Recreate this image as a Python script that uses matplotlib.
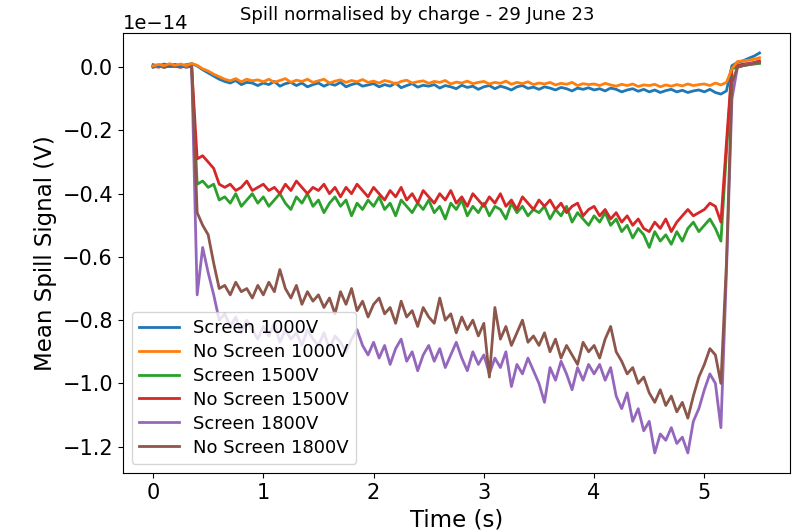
import numpy as np
import matplotlib
matplotlib.use("Agg")
import matplotlib.pyplot as plt

# time samples (s), 0.05 s spacing
t = np.arange(0, 5.51, 0.05)

# mean spill signal, in units of 1e-14 V
screen_1000 = [
    0.008, 0.004, 0.01, 0.006, 0.009, 0.004, 0.008, 0.011, 0.004, -0.008,
    -0.018, -0.028, -0.038, -0.045, -0.05, -0.042, -0.055, -0.048, -0.05, -0.058,
    -0.05, -0.055, -0.045, -0.06, -0.052, -0.048, -0.058, -0.05, -0.062, -0.055,
    -0.05, -0.06, -0.052, -0.057, -0.048, -0.062, -0.055, -0.05, -0.06, -0.056,
    -0.052, -0.062, -0.055, -0.06, -0.05, -0.065, -0.058, -0.052, -0.063, -0.057,
    -0.06, -0.055, -0.066, -0.058, -0.062, -0.068, -0.057, -0.064, -0.06, -0.07,
    -0.062, -0.058, -0.068, -0.06, -0.065, -0.072, -0.062, -0.058, -0.067, -0.063,
    -0.07, -0.062, -0.066, -0.072, -0.064, -0.068, -0.075, -0.066, -0.07, -0.065,
    -0.072, -0.068, -0.075, -0.066, -0.07, -0.078, -0.072, -0.068, -0.076, -0.07,
    -0.078, -0.072, -0.08, -0.074, -0.07, -0.078, -0.073, -0.08, -0.075, -0.072,
    -0.078, -0.07, -0.08, -0.085, -0.075, 0.005, 0.015, 0.02, 0.028, 0.035,
    0.045,
]
no_screen_1000 = [
    0.004, 0.009, 0.005, 0.011, 0.006, 0.01, 0.005, 0.012, 0.006, -0.005,
    -0.012, -0.022, -0.03, -0.038, -0.043, -0.036, -0.046, -0.038, -0.043, -0.04,
    -0.046, -0.038, -0.048, -0.042, -0.036, -0.048, -0.041, -0.045, -0.038, -0.048,
    -0.043, -0.038, -0.05, -0.044, -0.04, -0.048, -0.042, -0.046, -0.039, -0.048,
    -0.044, -0.05, -0.042, -0.046, -0.053, -0.045, -0.041, -0.05, -0.046, -0.043,
    -0.051, -0.045, -0.048, -0.042, -0.053, -0.047, -0.05, -0.044, -0.052, -0.048,
    -0.045, -0.053, -0.048, -0.051, -0.044, -0.054, -0.048, -0.052, -0.046, -0.055,
    -0.05, -0.053, -0.048, -0.056, -0.051, -0.054, -0.048, -0.058, -0.052, -0.055,
    -0.053, -0.058, -0.051, -0.056, -0.06, -0.054, -0.058, -0.053, -0.061, -0.056,
    -0.058, -0.054, -0.062, -0.056, -0.06, -0.055, -0.059, -0.053, -0.058, -0.055,
    -0.053, -0.058, -0.05, -0.056, -0.048, -0.005, 0.018, 0.02, 0.022, 0.025,
    0.03,
]
screen_1500 = [
    0.0, 0.005, 0.0, 0.004, 0.002, 0.006, 0.0, 0.004, -0.37, -0.36,
    -0.38, -0.37, -0.42, -0.41, -0.43, -0.40, -0.44, -0.42, -0.40, -0.43,
    -0.41, -0.44, -0.42, -0.40, -0.43, -0.45, -0.41, -0.43, -0.40, -0.44,
    -0.42, -0.46, -0.43, -0.41, -0.44, -0.42, -0.47, -0.43, -0.45, -0.42,
    -0.44, -0.41, -0.45, -0.43, -0.47, -0.42, -0.44, -0.46, -0.43, -0.45,
    -0.42, -0.46, -0.44, -0.48, -0.43, -0.45, -0.42, -0.47, -0.44, -0.46,
    -0.43, -0.47, -0.44, -0.45, -0.48, -0.43, -0.46, -0.44, -0.47, -0.45,
    -0.46, -0.44, -0.48, -0.45, -0.47, -0.44, -0.49, -0.46, -0.48, -0.50,
    -0.47, -0.49, -0.46, -0.50, -0.48, -0.52, -0.50, -0.54, -0.51, -0.53,
    -0.57, -0.52, -0.55, -0.53, -0.56, -0.52, -0.55, -0.51, -0.49, -0.52,
    -0.50, -0.48, -0.51, -0.55, -0.27, -0.005, 0.0, 0.005, 0.008, 0.01,
    0.012,
]
no_screen_1500 = [
    0.004, 0.0, 0.006, 0.002, 0.005, 0.0, 0.006, 0.002, -0.29, -0.28,
    -0.30, -0.32, -0.37, -0.38, -0.37, -0.39, -0.38, -0.36, -0.39, -0.38,
    -0.37, -0.39, -0.38, -0.40, -0.37, -0.39, -0.36, -0.38, -0.40, -0.38,
    -0.39, -0.37, -0.40, -0.38, -0.41, -0.38, -0.40, -0.37, -0.39, -0.41,
    -0.38, -0.40, -0.42, -0.39, -0.41, -0.38, -0.42, -0.40, -0.43, -0.39,
    -0.41, -0.43, -0.40, -0.42, -0.39, -0.43, -0.41, -0.44, -0.40, -0.42,
    -0.44, -0.41, -0.43, -0.40, -0.44, -0.42, -0.45, -0.41, -0.43, -0.45,
    -0.42, -0.44, -0.42, -0.45, -0.43, -0.46, -0.44, -0.43, -0.47, -0.45,
    -0.44, -0.47, -0.45, -0.48, -0.46, -0.49, -0.47, -0.50, -0.48, -0.51,
    -0.52, -0.49, -0.51, -0.48, -0.52, -0.49, -0.47, -0.45, -0.47, -0.46,
    -0.45, -0.43, -0.44, -0.49, -0.24, 0.0, 0.005, 0.01, 0.012, 0.015,
    0.02,
]
screen_1800 = [
    0.0, 0.004, 0.0, 0.005, 0.002, 0.004, 0.0, 0.003, -0.72, -0.57,
    -0.65, -0.72, -0.80, -0.78, -0.82, -0.79, -0.84, -0.80, -0.83, -0.86,
    -0.82, -0.85, -0.81, -0.87, -0.83, -0.86, -0.84, -0.88, -0.83, -0.86,
    -0.88, -0.84, -0.89, -0.85, -0.87, -0.90, -0.86, -0.83, -0.88, -0.91,
    -0.87, -0.92, -0.88, -0.94, -0.89, -0.86, -0.93, -0.90, -0.96, -0.91,
    -0.88, -0.93, -0.89, -0.95, -0.91, -0.87, -0.92, -0.96, -0.90, -0.94,
    -0.91, -0.97, -0.92, -0.95, -0.90, -1.01, -0.94, -0.97, -0.92, -0.96,
    -1.00, -1.06, -0.95, -0.99, -0.93, -0.97, -1.02, -0.95, -0.99, -0.94,
    -0.97, -0.94, -0.99, -0.95, -1.04, -1.08, -1.03, -1.12, -1.08, -1.15,
    -1.12, -1.22, -1.16, -1.18, -1.14, -1.19, -1.17, -1.22, -1.12, -1.08,
    -1.02, -0.97, -1.00, -1.14, -0.65, -0.10, 0.0, 0.005, 0.01, 0.012,
    0.015,
]
no_screen_1800 = [
    0.002, 0.006, 0.0, 0.004, 0.003, 0.0, 0.005, 0.001, -0.46, -0.50,
    -0.53, -0.62, -0.70, -0.69, -0.72, -0.68, -0.71, -0.70, -0.73, -0.69,
    -0.72, -0.68, -0.71, -0.64, -0.70, -0.73, -0.69, -0.75, -0.71, -0.74,
    -0.72, -0.76, -0.73, -0.78, -0.71, -0.75, -0.70, -0.77, -0.74, -0.79,
    -0.75, -0.73, -0.78, -0.76, -0.81, -0.74, -0.79, -0.77, -0.82, -0.76,
    -0.79, -0.81, -0.73, -0.80, -0.78, -0.84, -0.79, -0.83, -0.80, -0.85,
    -0.81, -0.98, -0.76, -0.86, -0.82, -0.88, -0.84, -0.80, -0.87, -0.85,
    -0.88, -0.84, -0.90, -0.86, -0.92, -0.88, -0.91, -0.94, -0.87, -0.90,
    -0.88, -0.92, -0.86, -0.82, -0.90, -0.93, -0.97, -0.95, -1.00, -0.98,
    -1.03, -1.06, -1.02, -1.07, -1.04, -1.09, -1.06, -1.11, -1.04, -0.98,
    -0.94, -0.89, -0.91, -1.00, -0.62, -0.05, 0.0, 0.005, 0.008, 0.012,
    0.015,
]

labels = ['Screen 1000V', 'No Screen 1000V', 'Screen 1500V',
          'No Screen 1500V', 'Screen 1800V', 'No Screen 1800V']
series = [screen_1000, no_screen_1000, screen_1500,
          no_screen_1500, screen_1800, no_screen_1800]

fig = plt.figure(figsize=(7.97, 5.32), dpi=100)
ax = fig.add_axes([0.154, 0.111, 0.837, 0.827])

for i, (y, lab) in enumerate(zip(series, labels)):
    # keep the 1000V traces on top, as in the original
    ax.plot(t, np.array(y) * 1e-14, lw=2, label=lab, zorder=3 if i < 2 else 2)

# title sits level with the offset text, a little left of centre
ax.set_title('Spill normalised by charge - 29 June 23', fontsize=13,
             x=0.441, y=1.0, pad=9)
ax.set_xlabel('Time (s)', fontsize=16.5)
ax.set_ylabel('Mean Spill Signal (V)', fontsize=16.5)
ax.tick_params(labelsize=15)
ax.yaxis.get_offset_text().set_fontsize(14)
ax.legend(loc='lower left', fontsize=13, labelspacing=0.33, handlelength=2.2)

fig.savefig('out.png', dpi=100)
